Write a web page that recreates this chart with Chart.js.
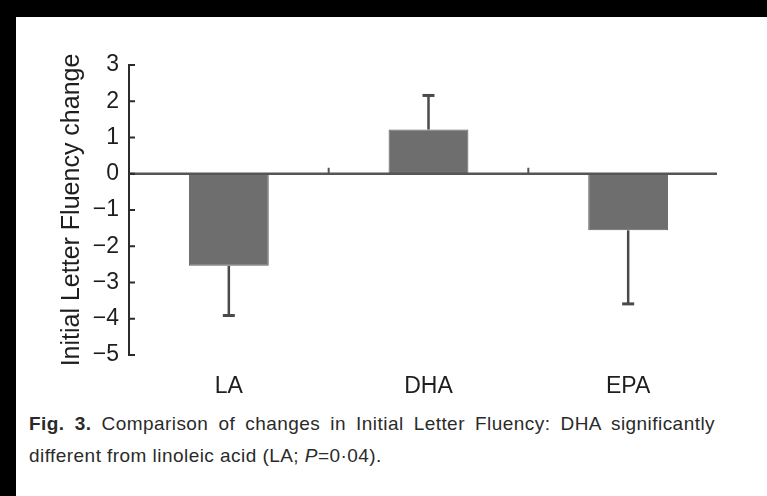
<!DOCTYPE html>
<html>
<head>
<meta charset="utf-8">
<script src="https://cdn.jsdelivr.net/npm/chart.js@4"></script>
<style>
  html, body { margin: 0; padding: 0; }
  body { width: 767px; height: 496px; background: #000; position: relative; overflow: hidden; }
  #panel { position: absolute; left: 16px; top: 17px; right: 0; bottom: 0; background: #fff; }
  #wrap { position: absolute; left: 16px; top: 17px; width: 751px; height: 390px; }
  #caption { position: absolute; left: 29px; top: 408px; width: 686px;
    font-family: "Liberation Sans", Arial, sans-serif; font-size: 19px; letter-spacing: 0.45px;
    line-height: 32px; color: #2a2a2a; }
  #caption .l1 { text-align: justify; text-align-last: justify; }
</style>
</head>
<body>
<div id="panel"></div>
<div id="wrap"><canvas id="chart"></canvas></div>
<div id="caption">
  <div class="l1"><b>Fig. 3.</b> Comparison of changes in Initial Letter Fluency: DHA significantly</div>
  <div>different from linoleic acid (LA; <i>P</i>=0·04).</div>
</div>
<script>
const groups = ['LA', 'DHA', 'EPA'];
const meanChange = [-2.54, 1.22, -1.56];
const errorSize = [1.37, 0.94, 2.03];
const yTicks = [3, 2, 1, 0, -1, -2, -3, -4, -5];

const ink = '#2b2b2b';

// error bars, axis ticks and the zero line, all placed through the scales
const extras = {
  id: 'extras',
  afterDatasetsDraw(chart) {
    const c = chart.ctx;
    const xs = chart.scales.x;
    const ys = chart.scales.y;
    const area = chart.chartArea;
    const y0 = ys.getPixelForValue(0);
    c.save();

    // zero line
    c.strokeStyle = '#555';
    c.lineWidth = 2.5;
    c.beginPath();
    c.moveTo(area.left, y0);
    c.lineTo(area.right - 11, y0);
    c.stroke();

    // category separators, pointing up from the zero line
    c.lineWidth = 2;
    for (let i = 1; i < groups.length; i++) {
      const x = (xs.getPixelForValue(i - 1) + xs.getPixelForValue(i)) / 2;
      c.beginPath();
      c.moveTo(x, y0);
      c.lineTo(x, y0 - 6);
      c.stroke();
    }

    // y ticks pointing inward
    c.strokeStyle = ink;
    c.lineWidth = 2;
    yTicks.forEach(v => {
      const y = ys.getPixelForValue(v);
      c.beginPath();
      c.moveTo(area.left, y);
      c.lineTo(area.left + 6, y);
      c.stroke();
    });

    // error bars
    c.strokeStyle = '#4a4a4a';
    meanChange.forEach((m, i) => {
      const x = xs.getPixelForValue(i);
      const end = m < 0 ? m - errorSize[i] : m + errorSize[i];
      const yA = ys.getPixelForValue(m);
      const yB = ys.getPixelForValue(end);
      c.lineWidth = 2.5;
      c.beginPath();
      c.moveTo(x, yA);
      c.lineTo(x, yB);
      c.stroke();
      c.lineWidth = 3;
      c.beginPath();
      c.moveTo(x - 6, yB);
      c.lineTo(x + 6, yB);
      c.stroke();
    });
    c.restore();
  }
};

new Chart(document.getElementById('chart').getContext('2d'), {
  type: 'bar',
  data: {
    labels: groups,
    datasets: [{
      data: meanChange,
      backgroundColor: '#6e6e6e',
      borderColor: '#606060',
      borderWidth: 1,
      categoryPercentage: 1,
      barPercentage: 0.4
    }]
  },
  options: {
    responsive: true,
    maintainAspectRatio: false,
    animation: false,
    layout: { padding: { top: 48, right: 39, left: 0, bottom: 0 } },
    plugins: { legend: { display: false }, tooltip: { enabled: false } },
    scales: {
      x: {
        grid: { display: false, drawTicks: false },
        border: { display: false },
        ticks: { color: '#1e1e1e', padding: 18, font: { family: 'Liberation Sans', size: 23 } },
        afterFit(s) { s.height = 52; }
      },
      y: {
        min: -5,
        max: 3,
        grid: { display: false, drawTicks: false },
        border: { display: true, color: ink, width: 2 },
        ticks: {
          stepSize: 1,
          padding: 10,
          color: '#1e1e1e',
          font: { family: 'Liberation Sans', size: 23 },
          callback: v => v < 0 ? '\u2212' + Math.abs(v) : String(v)
        },
        title: {
          display: true,
          text: 'Initial Letter Fluency change',
          color: '#1e1e1e',
          padding: { top: 41, bottom: 0 },
          font: { family: 'Liberation Sans', size: 25, weight: 'normal' }
        },
        afterFit(s) { s.width = 113; }
      }
    }
  },
  plugins: [extras]
});
</script>
</body>
</html>
